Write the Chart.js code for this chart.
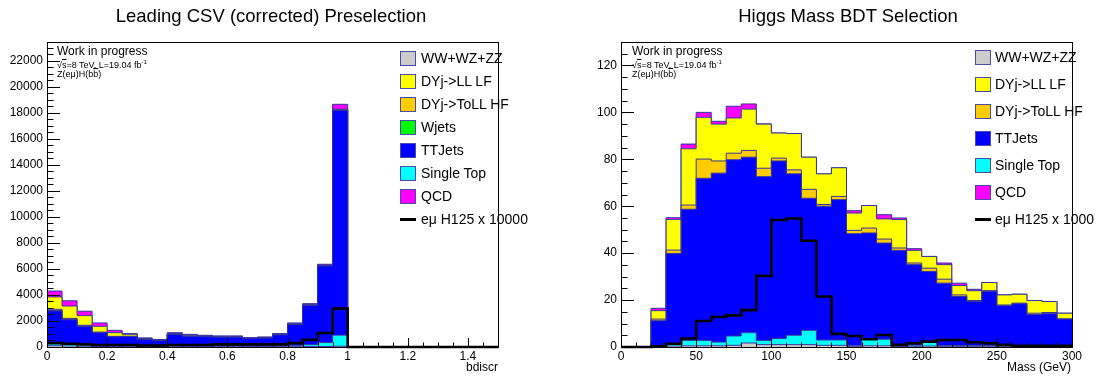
<!DOCTYPE html>
<html>
<head>
<meta charset="utf-8">
<script src="https://cdn.jsdelivr.net/npm/chart.js@4.4.0/dist/chart.umd.min.js"></script>
<style>
    body { margin: 0; background: #fff; font-family: "Liberation Sans", Arial, sans-serif; color: #000; }
    #wrap { position: relative; width: 1104px; height: 380px; overflow: hidden; }
    #wrap canvas { position: absolute; top: 0; }
    .txt { position: absolute; white-space: nowrap; line-height: 1; }
    .title { font-size: 18.5px; top: 7px; transform: translateX(-50%); }
    .axtitle { font-size: 12px; top: 361px; transform: translateX(-100%); }
    .wip { font-size: 12px; }
    .small { font-size: 9px; }
    .ov { text-decoration: overline; }
    .leg { position: absolute; font-size: 14px; }
    .leg .box { position: absolute; width: 16px; height: 15px; box-sizing: border-box; border: 1px solid #4a4aa8; }
    .leg .line { position: absolute; width: 16px; height: 3px; background: #000; }
    .leg .lab { position: absolute; white-space: nowrap; line-height: 14px; }
</style>
</head>
<body>
<div id="wrap">
    <canvas id="leftChart" width="552" height="380" style="left:0"></canvas>
    <canvas id="rightChart" width="552" height="380" style="left:552px"></canvas>

    <div class="txt title" style="left:271px">Leading CSV (corrected) Preselection</div>
    <div class="txt title" style="left:848px">Higgs Mass BDT Selection</div>

    <div class="txt axtitle" style="left:498px">bdiscr</div>
    <div class="txt axtitle" style="left:1071px">Mass (GeV)</div>

    <div class="txt wip" style="left:57px;top:45px">Work in progress</div>
    <div class="txt small" style="left:57px;top:59px">√<span class="ov">s</span>=8 TeV, L=19.04 fb<sup style="font-size:6px">-1</sup></div>
    <div class="txt small" style="left:57px;top:70px">Z(eμ)H(b<span class="ov">b</span>)</div>

    <div class="txt wip" style="left:632px;top:45px">Work in progress</div>
    <div class="txt small" style="left:632px;top:59px">√<span class="ov">s</span>=8 TeV, L=19.04 fb<sup style="font-size:6px">-1</sup></div>
    <div class="txt small" style="left:632px;top:70px">Z(eμ)H(b<span class="ov">b</span>)</div>

    <div id="legendLeft"></div>
    <div id="legendRight"></div>
</div>

<script>
// ---- 왼쪽: bdiscr (0 ~ 1.5, 0.05 간격 30개 bin) ----
const leftBinWidth = 0.05;
const leftWW     = [100, 80, 60, 40, 30, 20, 20, 20, 20, 20, 20, 20, 20, 20, 20, 20, 20, 30, 40, 60, 0, 0, 0, 0, 0, 0, 0, 0, 0, 0];
const leftST     = [200, 200, 150, 100, 80, 70, 50, 50, 80, 70, 60, 60, 60, 50, 50, 60, 100, 150, 300, 850, 0, 0, 0, 0, 0, 0, 0, 0, 0, 0];
const leftTT     = [2470, 1810, 1380, 960, 670, 715, 515, 415, 850, 735, 720, 680, 680, 575, 620, 850, 1605, 3015, 5885, 17275, 0, 0, 0, 0, 0, 0, 0, 0, 0, 0];
const leftWjets  = [30, 30, 20, 10, 10, 5, 5, 5, 10, 5, 5, 5, 5, 5, 5, 5, 5, 5, 5, 5, 0, 0, 0, 0, 0, 0, 0, 0, 0, 0];
const leftDYHF   = [100, 80, 60, 40, 30, 20, 10, 10, 20, 20, 15, 15, 15, 10, 15, 15, 20, 20, 30, 40, 0, 0, 0, 0, 0, 0, 0, 0, 0, 0];
const leftDYLF   = [950, 950, 740, 440, 280, 150, 60, 40, 60, 80, 50, 40, 40, 30, 30, 40, 40, 30, 40, 50, 0, 0, 0, 0, 0, 0, 0, 0, 0, 0];
const leftQCD    = [450, 400, 340, 260, 180, 50, 40, 30, 60, 40, 30, 30, 30, 30, 30, 40, 60, 80, 60, 370, 0, 0, 0, 0, 0, 0, 0, 0, 0, 0];
const leftSignal = [300, 250, 200, 150, 150, 150, 120, 120, 150, 150, 150, 200, 200, 200, 200, 200, 300, 550, 1080, 2950, 0, 0, 0, 0, 0, 0, 0, 0, 0, 0];
const leftXTicks = [0, 0.2, 0.4, 0.6, 0.8, 1, 1.2, 1.4];
const leftYTicks = [0, 2000, 4000, 6000, 8000, 10000, 12000, 14000, 16000, 18000, 20000, 22000];

// ---- 오른쪽: Mass (0 ~ 300 GeV, 10 GeV 간격 30개 bin) ----
const rightBinWidth = 10;
const rightWW     = [0, 0, 0.2, 0.4, 0.5, 0.5, 0.5, 0.7, 1.7, 1.0, 1.0, 1.0, 1.0, 0.7, 0.7, 0.3, 0.5, 0.5, 0.3, 0.3, 0.4, 0.3, 0.3, 0.3, 0.3, 0.3, 0.3, 0.3, 0.3, 0.3];
const rightST     = [0, 0, 0.5, 1.0, 2.3, 2.3, 1.6, 4.0, 4.4, 1.8, 2.6, 4.0, 6.1, 2.3, 2.3, 0.4, 2.8, 2.8, 0.5, 0.5, 1.8, 0.3, 0.3, 0.3, 0.3, 0.3, 0.3, 0.3, 0.3, 0.3];
const rightTT     = [0, 0, 10.5, 38.5, 55.9, 69.1, 72.0, 75.1, 74.8, 69.8, 75.7, 68.8, 56.3, 57.0, 59.8, 47.6, 45.3, 41.0, 40.4, 34.3, 30.0, 26.6, 20.9, 18.9, 23.2, 17.0, 17.8, 13.2, 13.6, 11.3];
const rightDYHF   = [0, 0, 0.7, 1.4, 1.8, 8.2, 5.2, 2.8, 2.9, 3.6, 1.2, 1.7, 3.8, 0.7, 1.4, 1.4, 2.1, 1.7, 1.0, 0.7, 1.4, 1.7, 0.7, 0.3, 0.2, 0.3, 0.3, 0.6, 0.5, 0.1];
const rightDYLF   = [0, 0, 3.6, 13.1, 24.0, 17.8, 15.7, 15.0, 17.6, 18.8, 10.7, 15.5, 13.7, 13.1, 12.2, 7.4, 9.6, 8.6, 12.1, 5.4, 5.0, 6.2, 4.0, 4.2, 3.5, 4.3, 3.8, 5.4, 4.7, 2.4];
const rightQCD    = [0, 0, 1.0, 0.7, 2.0, 2.1, 1.2, 5.0, 2.2, 0.1, 0, 0, 0, 0, 0, 1.0, 0, 1.8, 0.7, 0.7, 0, 0.7, 1.0, 0.6, 0, 0, 0, 0, 0, 0];
const rightSignal = [0, 0, 0.3, 1.4, 3.6, 11.1, 12.8, 13.5, 15.7, 30.3, 54.1, 54.8, 45.3, 21.5, 5.6, 4.7, 3.3, 5.1, 0.9, 1.6, 2.3, 3.0, 3.0, 2.0, 1.6, 0.9, 0.5, 0.5, 0.5, 0.5];
const rightXTicks = [0, 50, 100, 150, 200, 250, 300];
const rightYTicks = [0, 20, 40, 60, 80, 100, 120];

// 색상 (ROOT 스타일)
const COLORS = {
    ww: '#cccccc', dylf: '#ffff00', dyhf: '#ffcc00', wjets: '#00ff00',
    tt: '#0000ff', st: '#00ffff', qcd: '#ff00ff'
};
const OUTLINE = '#34349c';

// bin 값 -> 계단형 점 (왼쪽 모서리 기준 + 마지막 오른쪽 모서리)
function histPoints(values, binWidth) {
    const pts = values.map((v, i) => ({ x: +(i * binWidth).toFixed(4), y: v }));
    pts.push({ x: +(values.length * binWidth).toFixed(4), y: values[values.length - 1] });
    return pts;
}

// ROOT 스타일 안쪽 눈금 + 프레임
const rootAxes = {
    id: 'rootAxes',
    afterDatasetsDraw(chart, args, opts) {
        const ctx = chart.ctx;
        const a = chart.chartArea;
        const xs = chart.scales.x, ys = chart.scales.y;
        const isMajor = (v, step) => Math.abs(v / step - Math.round(v / step)) < 1e-6;
        ctx.save();
        ctx.strokeStyle = '#000';
        ctx.lineWidth = 1;
        ctx.beginPath();
        const nx = Math.round((xs.max - xs.min) / opts.xMinor);
        for (let i = 0; i <= nx; i++) {
            const v = xs.min + i * opts.xMinor;
            const px = Math.round(xs.getPixelForValue(v)) + 0.5;
            const len = isMajor(v, opts.xMajor) ? 9 : 4.5;
            ctx.moveTo(px, a.bottom);
            ctx.lineTo(px, a.bottom - len);
        }
        const ny = Math.floor((ys.max - ys.min) / opts.yMinor + 1e-6);
        for (let i = 0; i <= ny; i++) {
            const v = ys.min + i * opts.yMinor;
            const py = Math.round(ys.getPixelForValue(v)) + 0.5;
            const len = isMajor(v, opts.yMajor) ? 13 : 6.5;
            ctx.moveTo(a.left, py);
            ctx.lineTo(a.left + len, py);
        }
        ctx.stroke();
        ctx.strokeRect(Math.round(a.left) + 0.5, Math.round(a.top) + 0.5,
            Math.round(a.right - a.left), Math.round(a.bottom - a.top));
        ctx.restore();
    }
};

function makeHist(canvasId, p) {
    const datasets = p.stack.map((s, i) => ({
        label: s.label,
        data: histPoints(s.values, p.binWidth),
        stack: 'bkg',
        stepped: 'before',
        fill: i === 0 ? 'origin' : '-1',
        backgroundColor: s.color,
        borderColor: OUTLINE,
        borderWidth: 1,
        pointRadius: 0
    }));
    datasets.push({
        label: p.signalLabel,
        data: histPoints(p.signal, p.binWidth),
        stack: 'sig',
        stepped: 'before',
        fill: false,
        borderColor: '#000',
        borderWidth: 2.6,
        pointRadius: 0,
        clip: 3,
        order: -1
    });

    const tickFont = { family: 'Liberation Sans', size: 12 };
    new Chart(document.getElementById(canvasId), {
        type: 'line',
        data: { datasets: datasets },
        plugins: [rootAxes],
        options: {
            responsive: false,
            animation: false,
            events: [],
            layout: { padding: { top: 42, right: p.padRight, left: 0, bottom: 0 } },
            plugins: {
                legend: { display: false },
                tooltip: { enabled: false },
                rootAxes: p.axes
            },
            scales: {
                x: {
                    type: 'linear',
                    min: p.xMin, max: p.xMax,
                    grid: { display: false, drawTicks: false },
                    border: { display: false },
                    afterFit: scale => { scale.height = 33; },
                    afterBuildTicks: scale => { scale.ticks = p.xTicks.map(v => ({ value: v })); },
                    ticks: { autoSkip: false, maxRotation: 0, padding: 2, color: '#000', font: tickFont,
                             callback: v => String(v) }
                },
                y: {
                    stacked: true,
                    min: 0, max: p.yMax,
                    grid: { display: false, drawTicks: false },
                    border: { display: false },
                    afterFit: scale => { scale.width = p.yWidth; },
                    afterBuildTicks: scale => { scale.ticks = p.yTicks.map(v => ({ value: v })); },
                    ticks: { padding: 4, color: '#000', font: tickFont, callback: v => String(v) }
                }
            }
        }
    });
}

// 범례 (HTML)
function makeLegend(id, items, signalLabel, boxLeft, textLeft, top, step) {
    const el = document.getElementById(id);
    let html = '';
    items.forEach((it, i) => {
        const cy = top + i * step;
        html += `<div class="leg"><div class="box" style="left:${boxLeft}px;top:${cy - 7.5}px;background:${it.color}"></div>` +
                `<div class="lab" style="left:${textLeft}px;top:${cy - 7}px">${it.label}</div></div>`;
    });
    const cy = top + items.length * step;
    html += `<div class="leg"><div class="line" style="left:${boxLeft}px;top:${cy - 1.5}px"></div>` +
            `<div class="lab" style="left:${textLeft}px;top:${cy - 7}px">${signalLabel}</div></div>`;
    el.innerHTML = html;
}

document.addEventListener('DOMContentLoaded', function() {
    // 왼쪽 그래프
    makeHist('leftChart', {
        binWidth: leftBinWidth,
        xMin: 0, xMax: 1.5, yMax: 23440,
        xTicks: leftXTicks, yTicks: leftYTicks,
        yWidth: 47, padRight: 54,
        axes: { xMinor: 0.05, xMajor: 0.2, yMinor: 500, yMajor: 2000 },
        stack: [
            { label: 'WW+WZ+ZZ', values: leftWW, color: COLORS.ww },
            { label: 'Single Top', values: leftST, color: COLORS.st },
            { label: 'TTJets', values: leftTT, color: COLORS.tt },
            { label: 'Wjets', values: leftWjets, color: COLORS.wjets },
            { label: 'DYj->ToLL HF', values: leftDYHF, color: COLORS.dyhf },
            { label: 'DYj->LL LF', values: leftDYLF, color: COLORS.dylf },
            { label: 'QCD', values: leftQCD, color: COLORS.qcd }
        ],
        signal: leftSignal,
        signalLabel: 'eμ H125 x 10000'
    });

    // 오른쪽 그래프
    makeHist('rightChart', {
        binWidth: rightBinWidth,
        xMin: 0, xMax: 300, yMax: 130,
        xTicks: rightXTicks, yTicks: rightYTicks,
        yWidth: 69, padRight: 32,
        axes: { xMinor: 10, xMajor: 50, yMinor: 5, yMajor: 20 },
        stack: [
            { label: 'WW+WZ+ZZ', values: rightWW, color: COLORS.ww },
            { label: 'Single Top', values: rightST, color: COLORS.st },
            { label: 'TTJets', values: rightTT, color: COLORS.tt },
            { label: 'DYj->ToLL HF', values: rightDYHF, color: COLORS.dyhf },
            { label: 'DYj->LL LF', values: rightDYLF, color: COLORS.dylf },
            { label: 'QCD', values: rightQCD, color: COLORS.qcd }
        ],
        signal: rightSignal,
        signalLabel: 'eμ H125 x 1000'
    });

    makeLegend('legendLeft', [
        { label: 'WW+WZ+ZZ', color: COLORS.ww },
        { label: 'DYj-&gt;LL LF', color: COLORS.dylf },
        { label: 'DYj-&gt;ToLL HF', color: COLORS.dyhf },
        { label: 'Wjets', color: COLORS.wjets },
        { label: 'TTJets', color: COLORS.tt },
        { label: 'Single Top', color: COLORS.st },
        { label: 'QCD', color: COLORS.qcd }
    ], 'eμ H125 x 10000', 400, 421, 58, 23);

    makeLegend('legendRight', [
        { label: 'WW+WZ+ZZ', color: COLORS.ww },
        { label: 'DYj-&gt;LL LF', color: COLORS.dylf },
        { label: 'DYj-&gt;ToLL HF', color: COLORS.dyhf },
        { label: 'TTJets', color: COLORS.tt },
        { label: 'Single Top', color: COLORS.st },
        { label: 'QCD', color: COLORS.qcd }
    ], 'eμ H125 x 1000', 975, 995, 57, 27);
});
</script>
</body>
</html>
